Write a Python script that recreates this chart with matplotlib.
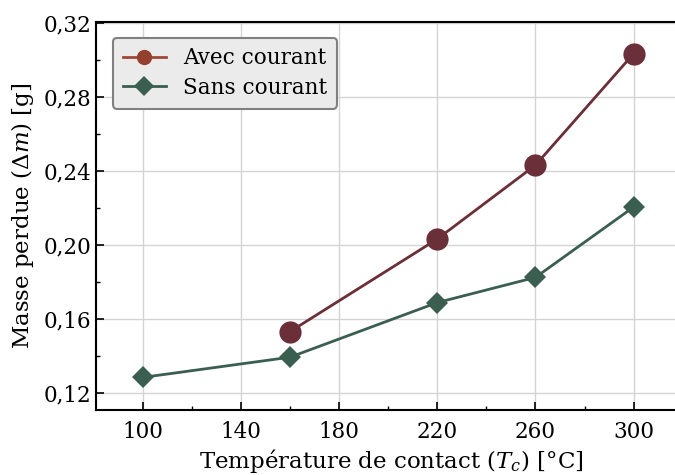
import matplotlib
matplotlib.use('Agg')
import matplotlib.pyplot as plt
from matplotlib.lines import Line2D
from matplotlib.ticker import MultipleLocator, FuncFormatter

plt.rcParams['font.family'] = ['DejaVu Serif']
plt.rcParams['mathtext.fontset'] = 'dejavuserif'

# données
temp_avec = [160, 220, 260, 300]
masse_avec = [0.1533, 0.2033, 0.2432, 0.3034]
temp_sans = [100, 160, 220, 260, 300]
masse_sans = [0.1286, 0.1395, 0.1690, 0.1826, 0.2206]

col_avec = '#6a2f38'
col_sans = '#3a5e50'
col_avec_leg = '#93402e'

fig = plt.figure(figsize=(6.75, 4.75), dpi=100)
# l'axe va jusqu'au bord droit de l'image (cadre coupé sur l'original)
ax = fig.add_axes([96 / 675, 1 - 410 / 475, 579 / 675, 388 / 475])

ax.plot(temp_avec, masse_avec, color=col_avec, lw=2, marker='o', ms=16, mew=0, zorder=3)
ax.plot(temp_sans, masse_sans, color=col_sans, lw=2, marker='D', ms=11.5, mew=0, zorder=3)

ax.set_xlim(81, 81 + 579 / 2.455)
ax.set_ylim(0.111, 0.3205)
ax.xaxis.set_minor_locator(MultipleLocator(20))
ax.yaxis.set_major_locator(MultipleLocator(0.04))
ax.yaxis.set_minor_locator(MultipleLocator(0.02))
ax.yaxis.set_major_formatter(FuncFormatter(lambda v, p: '{:.2f}'.format(v).replace('.', ',')))
ax.set_xticks([100, 140, 180, 220, 260, 300])

ax.tick_params(which='both', direction='in', labelsize=15.5)
ax.tick_params(axis='x', pad=8)
ax.tick_params(which='major', length=6, width=1.2)
ax.tick_params(which='minor', length=3, width=1)
ax.grid(True, which='major', color='#d4d4d4', lw=1)
ax.set_axisbelow(True)
for s in ax.spines.values():
    s.set_linewidth(1.5)
ax.spines['right'].set_visible(False)

ax.set_xlabel('Température de contact ($T_c$) [°C]', fontsize=16.5, labelpad=3, x=0.51)
ax.set_ylabel('Masse perdue ($\\Delta m$) [g]', fontsize=16.5, labelpad=5)

handles = [
    Line2D([], [], color='#a04838', lw=2, marker='o', ms=11, mew=0, mfc=col_avec_leg),
    Line2D([], [], color=col_sans, lw=2, marker='D', ms=10, mew=0, mfc=col_sans),
]
leg = ax.legend(handles, ['Avec courant', 'Sans courant'], loc='upper left',
                fontsize=15.5, fancybox=True, framealpha=1, facecolor='#ebebeb',
                edgecolor='#808080', borderpad=0.45, handlelength=2.0,
                labelspacing=0.35, bbox_to_anchor=(0.011, 0.987))
leg.get_frame().set_linewidth(1.5)

fig.savefig('out.png', dpi=100)
